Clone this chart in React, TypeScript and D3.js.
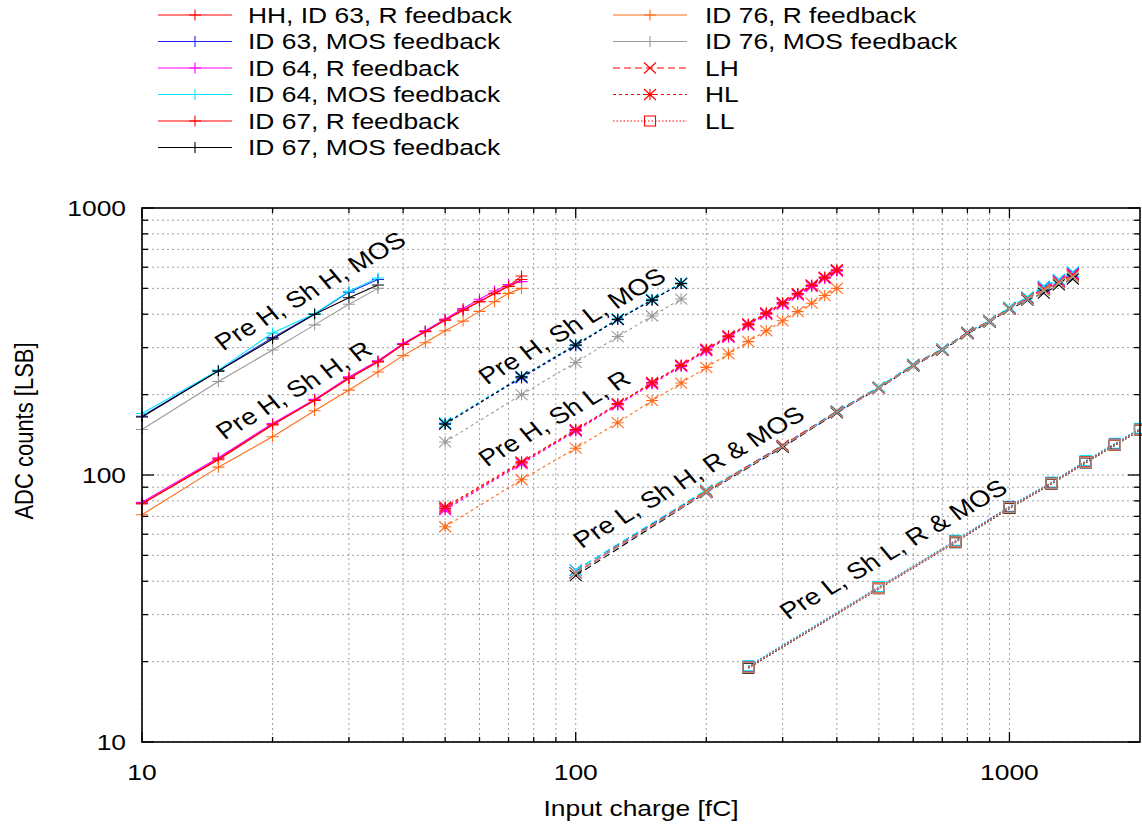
import React from "react";
import * as d3 from "d3";

// Charge points (fC) for each gain setting
const xHH_R = [10, 15, 20, 25, 30, 35, 40, 45, 50, 55, 60, 65, 70, 75];
const xHH_MOS = [10, 15, 20, 25, 30, 35];
const xHL_R = [50, 75, 100, 125, 150, 175, 200, 225, 250, 275, 300, 325, 350, 375, 400];
const xHL_MOS = [50, 75, 100, 125, 150, 175];
const xLH = [100, 200, 300, 400, 500, 600, 700, 800, 900, 1000, 1100, 1200, 1300, 1400];
const xLL = [250, 500, 750, 1000, 1250, 1500, 1750, 2000];

// Pre H, Sh H
const hh63R = [78, 115, 155, 191, 231, 266, 309, 345, 381, 415, 446, 479, 510, 556];
const hh64R = [79, 116, 156, 192, 233, 268, 311, 347, 384, 420, 455, 489, 517, 530];
const hh67R = [78, 114, 154, 190, 230, 265, 308, 344, 380, 414, 446, 478, 508, 540];
const hh76R = [71, 107, 139, 174, 208, 243, 280, 313, 347, 377, 410, 446, 479, 500];
const hh63M = [166, 246, 327, 401, 484, 540];
const hh64M = [170, 247, 340, 402, 488, 547];
const hh67M = [165, 245, 323, 400, 461, 515];
const hh76M = [148, 224, 294, 365, 436, 500];

// Pre H, Sh L
const hl63R = [75, 111, 147, 184, 221, 257, 294, 330, 366, 402, 440, 476, 512, 548, 583];
const hl64R = [74, 110, 146, 183, 219, 255, 292, 328, 364, 400, 436, 472, 508, 545, 580];
const hl67R = [76, 112, 148, 185, 222, 258, 296, 332, 368, 405, 442, 478, 515, 551, 587];
const hl76R = [64, 96, 126, 157, 190, 221, 253, 284, 316, 347, 378, 409, 440, 470, 500];
const hl63M = [156, 231, 305, 382, 452, 522];
const hl64M = [157, 234, 308, 385, 456, 524];
const hl67M = [155, 233, 307, 383, 452, 521];
const hl76M = [133, 200, 264, 330, 394, 456];

// Pre L, Sh H
const lh63R = [43, 87, 129, 173, 212, 258, 295, 341, 377, 422, 460, 500, 530, 565];
const lh63M = [44, 87, 128, 172, 213, 259, 296, 342, 378, 423, 462, 507, 538, 573];
const lh64R = [43, 86, 128, 172, 211, 257, 294, 340, 376, 421, 459, 502, 533, 568];
const lh64M = [44, 88, 129, 174, 214, 260, 297, 343, 379, 425, 465, 510, 540, 576];
const lh67R = [43, 87, 129, 173, 212, 258, 295, 341, 377, 421, 458, 496, 527, 560];
const lh67M = [42, 86, 127, 171, 211, 256, 293, 338, 374, 418, 452, 480, 515, 542];
const lh76R = [43, 87, 128, 172, 212, 257, 294, 340, 376, 420, 457, 493, 525, 556];
const lh76M = [43, 86, 128, 172, 211, 257, 294, 339, 375, 419, 455, 490, 522, 552];

// Pre L, Sh L
const ll63R = [19.1, 37.8, 56.3, 75.7, 93.1, 112, 130, 148];
const ll63M = [19.2, 38.0, 56.6, 76.1, 93.6, 112.8, 131, 149];
const ll64R = [19.0, 37.7, 56.1, 75.5, 92.8, 111.6, 129.5, 147.5];
const ll64M = [19.3, 38.2, 56.9, 76.4, 94.0, 113.2, 131.5, 149.5];
const ll67R = [19.1, 37.9, 56.4, 75.8, 93.3, 112.2, 130.3, 148.3];
const ll67M = [18.9, 37.5, 55.8, 75.0, 92.4, 111.0, 129, 147];
const ll76R = [19.0, 37.6, 56.0, 75.3, 92.6, 111.4, 129.3, 147.2];
const ll76M = [19.1, 37.8, 56.2, 75.6, 93.0, 111.8, 129.8, 147.8];

const seriesNames = [
  "HH, ID 63, R feedback",
  "ID 63, MOS feedback",
  "ID 64, R feedback",
  "ID 64, MOS feedback",
  "ID 67, R feedback",
  "ID 67, MOS feedback",
  "ID 76, R feedback",
  "ID 76, MOS feedback",
];
const seriesColors = ["#ff0000", "#2020ff", "#ff00ff", "#00e5ff", "#ff0000", "#000000", "#ff6a1a", "#9a9a9a"];

const xTickMajor = [10, 100, 1000];
const xTickMinor = [20, 30, 40, 50, 60, 70, 80, 90, 200, 300, 400, 500, 600, 700, 800, 900];
const yTickMajor = [10, 100, 1000];
const yTickMinor = [20, 30, 40, 50, 60, 70, 80, 90, 200, 300, 400, 500, 600, 700, 800, 900];

// label anchors in data coordinates (start of baseline)
const annotations = [
  { text: "Pre H, Sh H, MOS", x: 15.4, y: 291 },
  { text: "Pre H, Sh H, R", x: 15.5, y: 135 },
  { text: "Pre H, Sh L, MOS", x: 62.4, y: 217 },
  { text: "Pre H, Sh L, R", x: 62.4, y: 107 },
  { text: "Pre L, Sh H, R & MOS", x: 103.3, y: 52.8 },
  { text: "Pre L, Sh L, R & MOS", x: 309, y: 28.6 },
];

const W = 1142;
const H = 826;
const left = 142, right = 1140, top = 208, bottom = 742;
const FONT = "'Liberation Sans', Arial, Helvetica, sans-serif";
const FS = 22;
const FS_ROT = 23;
const SX = 1.2;

const x = d3.scaleLog().domain([10, 2000]).range([left, right]);
const y = d3.scaleLog().domain([10, 1000]).range([bottom, top]);

type Marker = "plus" | "cross" | "star" | "square";

function markerPath(m: Marker, cx: number, cy: number): string {
  const a = 6, b = 5.5;
  const plus = `M${cx - a},${cy}H${cx + a}M${cx},${cy - b}V${cy + b}`;
  const cross = `M${cx - a},${cy - b}L${cx + a},${cy + b}M${cx - a},${cy + b}L${cx + a},${cy - b}`;
  if (m === "plus") return plus;
  if (m === "cross") return cross;
  if (m === "star") return plus + cross;
  const s = 5;
  return `M${cx - s - 0.5},${cy - s}H${cx + s + 0.5}V${cy + s}H${cx - s - 0.5}Z`;
}

const DASH: Record<string, string | undefined> = {
  solid: undefined,
  dash: "7,4",
  short: "3,3",
  dot: "1.5,2",
};

interface Curve {
  xs: number[];
  ys: number[];
  color: string;
  dash: string;
  marker: Marker;
}

const curves: Curve[] = [];
const add = (xs: number[], list: number[][], dash: string, marker: Marker, idx: number[]) => {
  list.forEach((ys, i) => curves.push({ xs, ys, color: seriesColors[idx[i]], dash, marker }));
};
// draw order: per chip, HH first
add(xHH_R, [hh63R], "solid", "plus", [0]);
add(xHH_MOS, [hh63M], "solid", "plus", [1]);
add(xHH_R, [hh64R], "solid", "plus", [2]);
add(xHH_MOS, [hh64M], "solid", "plus", [3]);
add(xHH_R, [hh67R], "solid", "plus", [4]);
add(xHH_MOS, [hh67M], "solid", "plus", [5]);
add(xHH_R, [hh76R], "solid", "plus", [6]);
add(xHH_MOS, [hh76M], "solid", "plus", [7]);
add(xLH, [lh63R, lh63M, lh64R, lh64M, lh67R, lh67M, lh76R, lh76M], "dash", "cross", [0, 1, 2, 3, 4, 5, 6, 7]);
add(xHL_R, [hl63R], "short", "star", [0]);
add(xHL_MOS, [hl63M], "short", "star", [1]);
add(xHL_R, [hl64R], "short", "star", [2]);
add(xHL_MOS, [hl64M], "short", "star", [3]);
add(xHL_R, [hl67R], "short", "star", [4]);
add(xHL_MOS, [hl67M], "short", "star", [5]);
add(xHL_R, [hl76R], "short", "star", [6]);
add(xHL_MOS, [hl76M], "short", "star", [7]);
add(xLL, [ll63R, ll63M, ll64R, ll64M, ll67R, ll67M, ll76R, ll76M], "dot", "square", [0, 1, 2, 3, 4, 5, 6, 7]);

const legendEntries: { label: string; color: string; dash: string; marker: Marker }[] = [
  ...seriesNames.map((n, i) => ({ label: n, color: seriesColors[i], dash: "solid", marker: "plus" as Marker })),
  { label: "LH", color: "#ff0000", dash: "dash", marker: "cross" },
  { label: "HL", color: "#ff0000", dash: "short", marker: "star" },
  { label: "LL", color: "#ff0000", dash: "dot", marker: "square" },
];

function Txt(props: { x: number; y: number; anchor?: string; rotate?: number; size?: number; children: React.ReactNode }) {
  const { x: tx, y: ty, anchor = "start", rotate = 0, size = FS } = props;
  return (
    <text
      transform={`translate(${tx},${ty}) scale(${SX},1)${rotate ? ` rotate(${rotate})` : ""}`}
      textAnchor={anchor}
      fontFamily={FONT}
      fontSize={size}
      fill="#000"
    >
      {props.children}
    </text>
  );
}

export default function App() {
  const line = d3
    .line<[number, number]>()
    .x((d) => x(d[0]))
    .y((d) => y(d[1]));

  const allX = [...xTickMajor, ...xTickMinor];
  const allY = [...yTickMajor, ...yTickMinor];

  return (
    <svg
      width={W}
      height={H}
      style={{ position: "absolute", left: 0, top: 0, background: "#fff" }}
    >
      <rect x={0} y={0} width={W} height={H} fill="#fff" />
      {/* grid */}
      <g stroke="#a0a0a0" strokeWidth={1} strokeDasharray="2,3">
        {allX.map((v) => (
          <line key={"gx" + v} x1={x(v)} x2={x(v)} y1={top} y2={bottom} />
        ))}
        {allY.map((v) => (
          <line key={"gy" + v} x1={left} x2={right} y1={y(v)} y2={y(v)} />
        ))}
      </g>
      {/* ticks on all four sides */}
      <g stroke="#000" strokeWidth={1.3}>
        {allX.map((v) => {
          const len = xTickMajor.includes(v) ? 10 : 5;
          return (
            <g key={"tx" + v}>
              <line x1={x(v)} x2={x(v)} y1={bottom} y2={bottom - len} />
              <line x1={x(v)} x2={x(v)} y1={top} y2={top + len} />
            </g>
          );
        })}
        {allY.map((v) => {
          const len = yTickMajor.includes(v) ? 12 : 6;
          return (
            <g key={"ty" + v}>
              <line x1={left} x2={left + len} y1={y(v)} y2={y(v)} />
              <line x1={right} x2={right - len} y1={y(v)} y2={y(v)} />
            </g>
          );
        })}
      </g>
      {/* data */}
      <g fill="none" strokeWidth={1.1}>
        {curves.map((c, i) => {
          const pts = c.xs.map((v, j) => [v, c.ys[j]] as [number, number]);
          return (
            <g key={"c" + i} stroke={c.color}>
              <path d={line(pts) || ""} strokeDasharray={DASH[c.dash]} />
              <path d={pts.map((p) => markerPath(c.marker, x(p[0]), y(p[1]))).join("")} />
            </g>
          );
        })}
      </g>
      {/* border */}
      <rect x={left} y={top} width={right - left} height={bottom - top} fill="none" stroke="#000" strokeWidth={1.6} />
      {/* tick labels */}
      {xTickMajor.map((v) => (
        <Txt key={"xl" + v} x={x(v)} y={780} anchor="middle">
          {String(v)}
        </Txt>
      ))}
      {yTickMajor.map((v) => (
        <Txt key={"yl" + v} x={126} y={y(v) + 7.5} anchor="end">
          {String(v)}
        </Txt>
      ))}
      <Txt x={641} y={816} anchor="middle">
        Input charge [fC]
      </Txt>
      <Txt x={33} y={431} anchor="middle" rotate={-90}>
        ADC counts [LSB]
      </Txt>
      {/* annotations along curves */}
      {annotations.map((a) => (
        <Txt key={a.text} x={x(a.x)} y={y(a.y)} rotate={-35} size={FS_ROT}>
          {a.text}
        </Txt>
      ))}
      {/* legend */}
      {legendEntries.map((e, i) => {
        const col = i < 6 ? 0 : 1;
        const row = i < 6 ? i : i - 6;
        const x1 = col === 0 ? 158 : 613;
        const x2 = x1 + 74;
        const mx = (x1 + x2) / 2;
        const ly = 15 + 26.5 * row;
        const tx = col === 0 ? 248 : 705;
        return (
          <g key={"lg" + i}>
            <g stroke={e.color} fill="none" strokeWidth={1.1}>
              <line x1={x1} x2={x2} y1={ly} y2={ly} strokeDasharray={DASH[e.dash]} />
              <path d={markerPath(e.marker, mx, ly)} />
            </g>
            <Txt x={tx} y={ly + 7.5}>
              {e.label}
            </Txt>
          </g>
        );
      })}
    </svg>
  );
}
